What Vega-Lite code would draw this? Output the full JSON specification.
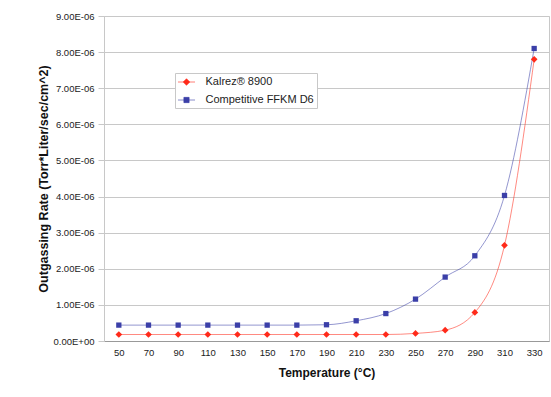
{
  "$schema": "https://vega.github.io/schema/vega-lite/v6.json",
  "width": 445,
  "height": 325,
  "autosize": {"type": "none"},
  "padding": {"left": 104, "top": 16, "right": 2, "bottom": 56},
  "background": "white",
  "config": {
    "font": "Liberation Sans",
    "view": {"stroke": "#c8c8c8", "strokeWidth": 1},
    "axis": {"labelFont": "Liberation Sans", "titleFont": "Liberation Sans", "labelColor": "#222", "titleColor": "#111", "domainColor": "#999", "tickColor": "#999"}
  },
  "data": {"values": [
    {"t": 50, "s": "Kalrez® 8900", "v": 1.8e-7},
    {"t": 70, "s": "Kalrez® 8900", "v": 1.8e-7},
    {"t": 90, "s": "Kalrez® 8900", "v": 1.8e-7},
    {"t": 110, "s": "Kalrez® 8900", "v": 1.8e-7},
    {"t": 130, "s": "Kalrez® 8900", "v": 1.8e-7},
    {"t": 150, "s": "Kalrez® 8900", "v": 1.8e-7},
    {"t": 170, "s": "Kalrez® 8900", "v": 1.8e-7},
    {"t": 190, "s": "Kalrez® 8900", "v": 1.8e-7},
    {"t": 210, "s": "Kalrez® 8900", "v": 1.8e-7},
    {"t": 230, "s": "Kalrez® 8900", "v": 1.8e-7},
    {"t": 250, "s": "Kalrez® 8900", "v": 2.1e-7},
    {"t": 270, "s": "Kalrez® 8900", "v": 3.0e-7},
    {"t": 290, "s": "Kalrez® 8900", "v": 7.9e-7},
    {"t": 310, "s": "Kalrez® 8900", "v": 2.65e-6},
    {"t": 330, "s": "Kalrez® 8900", "v": 7.8e-6},
    {"t": 50, "s": "Competitive FFKM D6", "v": 4.4e-7},
    {"t": 70, "s": "Competitive FFKM D6", "v": 4.4e-7},
    {"t": 90, "s": "Competitive FFKM D6", "v": 4.4e-7},
    {"t": 110, "s": "Competitive FFKM D6", "v": 4.4e-7},
    {"t": 130, "s": "Competitive FFKM D6", "v": 4.4e-7},
    {"t": 150, "s": "Competitive FFKM D6", "v": 4.4e-7},
    {"t": 170, "s": "Competitive FFKM D6", "v": 4.4e-7},
    {"t": 190, "s": "Competitive FFKM D6", "v": 4.5e-7},
    {"t": 210, "s": "Competitive FFKM D6", "v": 5.6e-7},
    {"t": 230, "s": "Competitive FFKM D6", "v": 7.6e-7},
    {"t": 250, "s": "Competitive FFKM D6", "v": 1.16e-6},
    {"t": 270, "s": "Competitive FFKM D6", "v": 1.77e-6},
    {"t": 290, "s": "Competitive FFKM D6", "v": 2.36e-6},
    {"t": 310, "s": "Competitive FFKM D6", "v": 4.03e-6},
    {"t": 330, "s": "Competitive FFKM D6", "v": 8.1e-6}
  ]},
  "encoding": {
    "x": {
      "field": "t", "type": "ordinal",
      "scale": {"padding": 0.5},
      "axis": {
        "title": "Temperature (°C)", "titleFontSize": 12, "titleFontWeight": "bold", "titlePadding": 11,
        "labelAngle": 0, "labelFontSize": 9.5, "labelPadding": 6, "ticks": false, "grid": false
      }
    },
    "y": {
      "field": "v", "type": "quantitative",
      "scale": {"domain": [0, 9e-6], "nice": false},
      "axis": {
        "title": "Outgassing Rate (Torr*Liter/sec/cm^2)", "titleFontSize": 12.5, "titleFontWeight": "bold", "titlePadding": 3,
        "values": [0, 1e-6, 2e-6, 3e-6, 4e-6, 5e-6, 6e-6, 7e-6, 8e-6, 9e-6],
        "labelExpr": "datum.value == 0 ? '0.00E+00' : format(datum.value * 1000000, '.2f') + 'E-06'",
        "labelFontSize": 9.5, "labelPadding": 4, "tickSize": 6, "tickColor": "#c8c8c8",
        "grid": true, "gridColor": "#c8c8c8", "gridWidth": 1, "domainColor": "#c8c8c8"
      }
    },
    "color": {
      "field": "s", "type": "nominal",
      "scale": {"domain": ["Kalrez® 8900", "Competitive FFKM D6"], "range": ["#ff2a1a", "#3b3fa8"]},
      "legend": {
        "title": null, "orient": "none", "legendX": 71, "legendY": 57,
        "strokeColor": "#c8c8c8", "padding": 3, "fillColor": "white",
        "labelFont": "Liberation Sans", "labelFontSize": 11, "labelColor": "#222",
        "symbolSize": 121, "symbolStrokeWidth": 1, "symbolOffset": 2.5, "rowPadding": 6, "labelOffset": 13,
        "encode": {
          "symbols": {
            "update": {
              "shape": {"signal": "datum.value == 'Kalrez® 8900' ? 'M-1.55,0H1.55M0,-0.6L0.6,0L0,0.6L-0.6,0Z' : 'M-1.55,0H1.55M-0.48,-0.48H0.48V0.48H-0.48Z'"},
              "stroke": {"scale": "color", "field": "value"},
              "strokeWidth": {"value": 1},
              "strokeOpacity": {"value": 0.6},
              "opacity": {"value": 1}
            }
          }
        }
      }
    }
  },
  "layer": [
    {
      "mark": {"type": "line", "interpolate": "monotone", "strokeWidth": 1, "strokeOpacity": 0.55}
    },
    {
      "mark": {"type": "point", "filled": true, "opacity": 1},
      "encoding": {
        "shape": {"condition": {"test": "datum.s == 'Kalrez® 8900'", "value": "diamond"}, "value": "square"},
        "size": {"condition": {"test": "datum.s == 'Kalrez® 8900'", "value": 45}, "value": 28}
      }
    }
  ]
}
